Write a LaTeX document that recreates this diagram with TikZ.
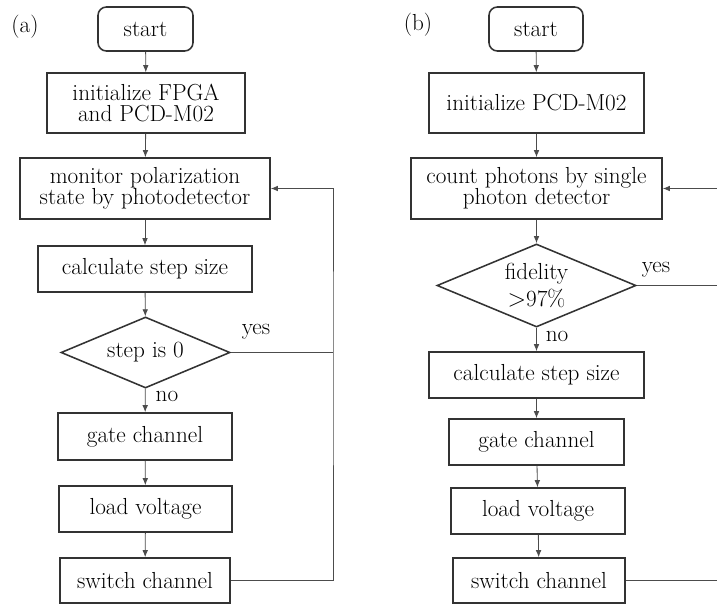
\documentclass[tikz,border=0pt]{standalone}
\usepackage{tikz}
\usetikzlibrary{shapes.geometric,arrows.meta}

\begin{document}
\begin{tikzpicture}[x=0.025cm,y=-0.025cm,
    font=\fontsize{16.5}{15}\selectfont,
    flowbox/.style={draw=black!80,line width=1.1pt,align=center,inner sep=0pt},
    startbox/.style={flowbox,rounded corners=6pt},
    choice/.style={flowbox,shape=diamond,aspect=2.4},
    flow/.style={draw=black!70,line width=0.6pt,-{Latex[length=5pt,width=4pt]}},
    link/.style={draw=black!70,line width=0.6pt}]
  \useasboundingbox (0,0) rectangle (717,605);

  % (a)
  \node (lblA) at (25,27) {(a)};
  \node[startbox,minimum width=2.375cm,minimum height=1.1cm] (startA) at (145.5,29) {start};
  \node[flowbox,minimum width=4.95cm,minimum height=1.5cm] (initA) at (146,103) {initialize FPGA\\and PCD-M02};
  \node[flowbox,minimum width=6.25cm,minimum height=1.525cm] (monA) at (145,188.5) {monitor polarization\\state by photodetector};
  \node[flowbox,minimum width=5.35cm,minimum height=1.15cm] (calcA) at (145,269) {calculate step size};
  \node[choice,minimum width=4.225cm,minimum height=1.775cm] (decA) at (145.5,352.5) {step is 0};
  \node[flowbox,minimum width=4.35cm,minimum height=1.175cm] (gateA) at (145,436.5) {gate channel};
  \node[flowbox,minimum width=4.325cm,minimum height=1.15cm] (loadA) at (145.5,509) {load voltage};
  \node[flowbox,minimum width=4.25cm,minimum height=1.125cm] (switchA) at (145,580.5) {switch channel};
  \node (yesA) at (256,332) {yes};
  \node (noA) at (167,396) {no};
  \coordinate (loopA) at (333,352.5);

  \draw[flow] (startA) -- (initA);
  \draw[flow] (initA) -- (monA);
  \draw[flow] (monA) -- (calcA);
  \draw[flow] (calcA) -- (decA);
  \draw[flow] (decA) -- (gateA);
  \draw[flow] (gateA) -- (loadA);
  \draw[flow] (loadA) -- (switchA);
  \draw[link] (decA.east) -- (loopA);
  \draw[flow] (switchA.east) -| (loopA) |- (monA.east);

  % (b)
  \node (lblB) at (418,25) {(b)};
  \node[startbox,minimum width=2.35cm,minimum height=1.1cm] (startB) at (536,29) {start};
  \node[flowbox,minimum width=5.375cm,minimum height=1.5cm] (initB) at (536.5,103) {initialize PCD-M02};
  \node[flowbox,minimum width=6.275cm,minimum height=1.525cm] (countB) at (536.5,188.5) {count photons by single\\photon detector};
  \node[choice,minimum width=4.975cm,minimum height=2.075cm] (decB) at (536.5,285.5) {fidelity\\[2pt]$>$97\%};
  \node[flowbox,minimum width=5.375cm,minimum height=1.15cm] (calcB) at (536.5,375) {calculate step size};
  \node[flowbox,minimum width=4.375cm,minimum height=1.15cm] (gateB) at (536.5,442) {gate channel};
  \node[flowbox,minimum width=4.35cm,minimum height=1.15cm] (loadB) at (538,511) {load voltage};
  \node[flowbox,minimum width=4.3cm,minimum height=1.125cm] (switchB) at (539,580.5) {switch channel};
  \node (yesB) at (656,270) {yes};
  \node (noB) at (557,336) {no};
  \coordinate (yesEnd) at (717,285.5);
  \coordinate (backIn) at (717,188.5);
  \coordinate (backOut) at (717,580.5);

  \draw[flow] (startB) -- (initB);
  \draw[flow] (initB) -- (countB);
  \draw[flow] (countB) -- (decB);
  \draw[flow] (decB) -- (calcB);
  \draw[flow] (calcB) -- (gateB);
  \draw[flow] (gateB) -- (loadB);
  \draw[flow] (loadB) -- (switchB);
  \draw[link] (decB.east) -- (yesEnd);
  \draw[link] (switchB.east) -- (backOut);
  \draw[flow] (backIn) -- (countB.east);
\end{tikzpicture}
\end{document}
